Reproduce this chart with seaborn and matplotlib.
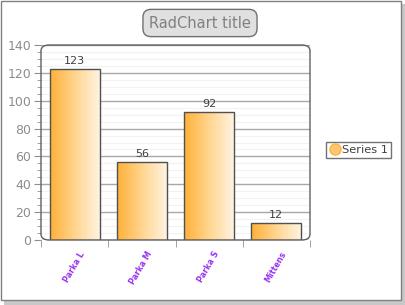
import numpy as np
import pandas as pd
import seaborn as sns
import matplotlib.pyplot as plt
import matplotlib.transforms as mtransforms
from matplotlib.patches import FancyBboxPatch, Rectangle
from matplotlib.colors import LinearSegmentedColormap
from matplotlib.ticker import MultipleLocator, FixedLocator
from matplotlib.lines import Line2D

categories = ['Parka L', 'Parka M', 'Parka S', 'Mittens']
values = [123, 56, 92, 12]
series_name = 'Series 1'
chart_title = 'RadChart title'

df = pd.DataFrame({'cat': categories, 'val': values})

sns.set_style('white')
plt.rcParams['font.family'] = ['DejaVu Sans']

fig = plt.figure(figsize=(4.05, 3.05), dpi=100)
W, H = 405, 305
ax = fig.add_axes([41 / W, 1 - 240 / H, 269 / W, 195 / H])

sns.barplot(data=df, x='cat', y='val', ax=ax, width=0.74, color='#FFB240',
            edgecolor='#505050', linewidth=1.0, zorder=3)

grad = LinearSegmentedColormap.from_list('g', ['#FFB038', '#FFD58E', '#FFF3E2'])
g = np.linspace(0, 1, 256).reshape(1, -1)
for p, v in zip(ax.patches, values):
    x0 = p.get_x(); w = p.get_width()
    p.set_facecolor('none')
    im = ax.imshow(g, cmap=grad, aspect='auto', extent=(x0, x0 + w, 0, v), zorder=2.5)
    im.set_clip_path(p)
    ax.text(x0 + w / 2, v + 2, str(v), ha='center', va='bottom', fontsize=8, color='#404040')

ax.set_xlim(-0.5, 3.5)
ax.set_ylim(0, 140)
ax.set_aspect('auto')
ax.yaxis.set_major_locator(MultipleLocator(20))
ax.yaxis.set_minor_locator(MultipleLocator(5))
ax.grid(which='major', axis='y', color='#A8A8A8', linewidth=1.0, zorder=1)
ax.grid(which='minor', axis='y', color='#F2F2F2', linewidth=0.8, zorder=0.5)
ax.set_axisbelow(True)
ax.set_xlabel('')
ax.set_ylabel('')
for s in ax.spines.values():
    s.set_visible(False)

# rounded plot frame
frame = FancyBboxPatch((0, 0), 1, 1, boxstyle='round,pad=0,rounding_size=0.03',
                       transform=ax.transAxes, facecolor='none', edgecolor='#606060',
                       linewidth=1.0, zorder=5, clip_on=False)
ax.add_patch(frame)

ax.tick_params(axis='y', which='major', length=5, color='#909090', labelsize=9,
               labelcolor='#8C8C8C', left=True, pad=2)
ax.tick_params(axis='y', which='minor', length=3, color='#909090', left=True)
ax.set_xticks(range(len(categories)))
ax.set_xticklabels(categories, rotation=60, ha='right', rotation_mode='anchor',
                   fontsize=5.8, fontweight='bold', color='#9A33F0')
ax.tick_params(axis='x', which='major', length=0, pad=7)
offset = mtransforms.ScaledTranslation(4 / 100, 0, fig.dpi_scale_trans)
for lab in ax.get_xticklabels():
    lab.set_transform(lab.get_transform() + offset)
ax.xaxis.set_minor_locator(FixedLocator([-0.5, 0.5, 1.5, 2.5, 3.5]))
ax.tick_params(axis='x', which='minor', length=5, color='#909090', bottom=True)

# title box
fig.text(200 / W, 1 - 23 / H, chart_title, ha='center', va='center', fontsize=10.5,
         color='#808080',
         bbox=dict(boxstyle='round,pad=0.42,rounding_size=0.55', facecolor='#E0E0E0',
                   edgecolor='#707070', linewidth=1.0))

# legend
h = Line2D([], [], marker='o', linestyle='none', markersize=8,
           markerfacecolor='#FFC870', markeredgecolor='#FFB040')
leg = fig.legend([h], [series_name], loc='center left', bbox_to_anchor=(326 / W, 1 - 150 / H),
                 frameon=True, fontsize=8.2, handletextpad=0.2, borderpad=0.3,
                 borderaxespad=0, handlelength=0.9, fancybox=False, labelcolor='#404040')
leg.get_frame().set_edgecolor('#505050')
leg.get_frame().set_linewidth(1.0)

# outer border with shadow
fig.patches.append(Rectangle((4 / W, 0), 1 - 4 / W, 1 - 4 / H, transform=fig.transFigure,
                             facecolor='#C8C8C8', edgecolor='none', zorder=-2))
fig.patches.append(Rectangle((0.5 / W, 5 / H), 1 - 5 / W, 1 - 5.5 / H, transform=fig.transFigure,
                             facecolor='white', edgecolor='#808080', linewidth=1.0, zorder=-1))

fig.savefig('out.png', dpi=100)
